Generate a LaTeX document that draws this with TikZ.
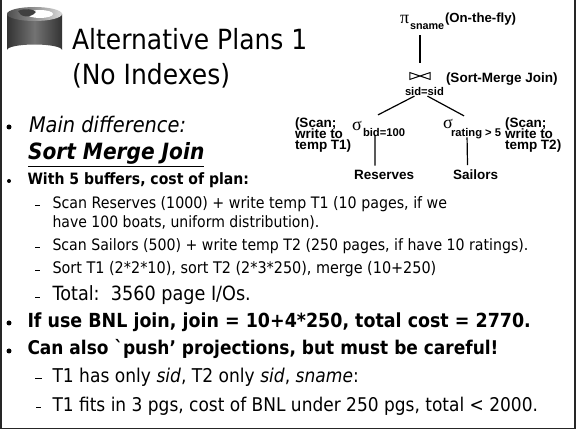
\documentclass[tikz,border=0pt]{standalone}
\usepackage{fontspec}
\setmainfont[FakeStretch=0.9]{DejaVu Sans}
\newfontfamily\treefont{Liberation Sans}
\newfontfamily\greekfont{Liberation Serif}
\newcommand{\fs}[1]{\fontsize{#1}{#1}\selectfont}
\begin{document}
\begin{tikzpicture}[x=1pt,y=-1pt,
  txt/.style={anchor=base west,inner sep=0pt,outer sep=0pt,text=black},
  tree/.style={txt,font=\treefont\bfseries\fs{13.5}},
  treesub/.style={txt,font=\treefont\bfseries\fs{11.2}},
  greek/.style={txt,font=\greekfont\fs{18}},
  conn/.style={draw=black,line width=1.2pt},
  bulletmark/.style={circle,fill=black,inner sep=0pt,minimum size=5pt},
  dashmark/.style={fill=black,inner sep=0pt,minimum width=5pt,minimum height=0.8pt}]
\useasboundingbox (0,0) rectangle (576,430);
\fill[white] (0,0) rectangle (576,430);
\draw[line width=1.5pt,black!85] (1,0) -- (1,428.5) -- (575,428.5) -- (575,0);
% database icon
\shade[left color=black!80,right color=black!80,middle color=black!55]
  (7,14) -- (7,50) arc[start angle=180,end angle=360,x radius=27.5,y radius=5.5] -- (62,14) -- cycle;
\shade[left color=black!70,right color=black!15] (34.5,14) ellipse[x radius=27.5,y radius=7];
\fill[white] (40,14) ellipse[x radius=13,y radius=4];
\fill[black!75] (18,11) .. controls (24,8) and (34,9) .. (36,12) .. controls (30,19) and (20,17) .. (18,11) -- cycle;
% title
\node[txt,font=\fs{27.8}] (t1) at (72,50) {Alternative Plans 1};
\node[txt,font=\fs{27.8}] (t2) at (72,85) {(No Indexes)};
% bullets
\node[bulletmark] (b1) at (9,127) {};
\node[txt,font=\itshape\fs{21.5}] (l1) at (29,133) {Main difference:};
\node[txt,font=\bfseries\itshape\fs{22.4}] (l2) at (28,160) {\underline{Sort Merge Join}};
\node[bulletmark,minimum size=4pt] (b2) at (9,181) {};
\node[txt,font=\bfseries\fs{15.6}] (l3) at (27.5,185) {With 5 buffers, cost of plan:};
\node[dashmark] (d1) at (37,205) {};
\node[txt,font=\fs{15.8}] (l4) at (52.5,209) {Scan Reserves (1000) + write temp T1 (10 pages, if we};
\node[txt,font=\fs{15.6}] (l5) at (52.5,228) {have 100 boats, uniform distribution).};
\node[dashmark] (d2) at (37,247) {};
\node[txt,font=\fs{15.7}] (l6) at (52.5,251) {Scan Sailors (500) + write temp T2 (250 pages, if have 10 ratings).};
\node[dashmark] (d3) at (37,270) {};
\node[txt,font=\fs{16}] (l7) at (52.5,274) {Sort T1 (2*2*10), sort T2 (2*3*250), merge (10+250)};
\node[dashmark] (d4) at (37,297) {};
\node[txt,font=\fs{19.6}] (l8) at (52.5,301) {Total:\ \ 3560 page I/Os.};
\node[bulletmark] (b3) at (9,323) {};
\node[txt,font=\bfseries\fs{19.4}] (l9) at (27.5,328) {If use BNL join, join = 10+4*250, total cost = 2770.};
\node[bulletmark] (b4) at (9,351) {};
\node[txt,font=\bfseries\fs{18.9}] (l10) at (27.5,355) {Can also {\addfontfeature{Ligatures=TeXOff}`}push' projections, but must be careful!};
\node[dashmark,minimum width=7pt] (d5) at (38,378) {};
\node[txt,font=\fs{19}] (l11) at (52.5,383) {T1 has only \textit{sid}, T2 only \textit{sid}, \textit{sname}:};
\node[dashmark] (d6) at (38,407) {};
\node[txt,font=\fs{18.9}] (l12) at (52.5,412) {T1 fits in 3 pgs, cost of BNL under 250 pgs, total < 2000.};
% tree
\node[greek] (pi) at (400,24) {π};
\node[treesub,font=\treefont\bfseries\fs{10.8}] (sname) at (410,30) {sname};
\node[tree,font=\treefont\bfseries\fs{13.2}] (fly) at (445,23) {(On-the-fly)};
\node[inner sep=0pt,minimum width=20pt,minimum height=6.5pt] (join) at (420,76) {};
\draw[line width=1pt] (join.south west) -- (join.north east) -- (join.south east) -- (join.north west) -- cycle;
\node[tree] (smj) at (446,83) {(Sort-Merge Join)};
\node[treesub] (sid) at (405,96) {sid=sid};
\node[greek] (sl) at (352,131) {σ};
\node[treesub] (bid) at (363,137) {bid=100};
\node[greek] (sr) at (443,129) {σ};
\node[treesub] (rat) at (451,137) {rating > 5};
\node[tree] (sc1) at (295,128) {(Scan;};
\node[tree] (wr1) at (295,139) {write to};
\node[tree] (tt1) at (295,150) {temp T1)};
\node[tree] (sc2) at (505,128) {(Scan;};
\node[tree] (wr2) at (505,139) {write to};
\node[tree] (tt2) at (505,150) {temp T2)};
\node[tree] (res) at (354,180) {Reserves};
\node[tree] (sai) at (453,180) {Sailors};
\draw[conn] ([yshift=-5pt]sname.south -| join.north) -- ([yshift=10pt]join.north);
\draw[conn] ([xshift=-10pt]sid.south) -- ([xshift=-6pt,yshift=14pt]bid.north);
\draw[conn] ([xshift=3pt]sid.south) -- ([xshift=-12pt,yshift=13pt]rat.north);
\draw[conn] ([xshift=-9pt,yshift=2pt]bid.south) -- ([xshift=-9pt,yshift=5pt]res.north);
\draw[conn] ([xshift=-9pt,yshift=2pt]rat.south) -- ([xshift=-8pt,yshift=5pt]sai.north);
\end{tikzpicture}
\end{document}
